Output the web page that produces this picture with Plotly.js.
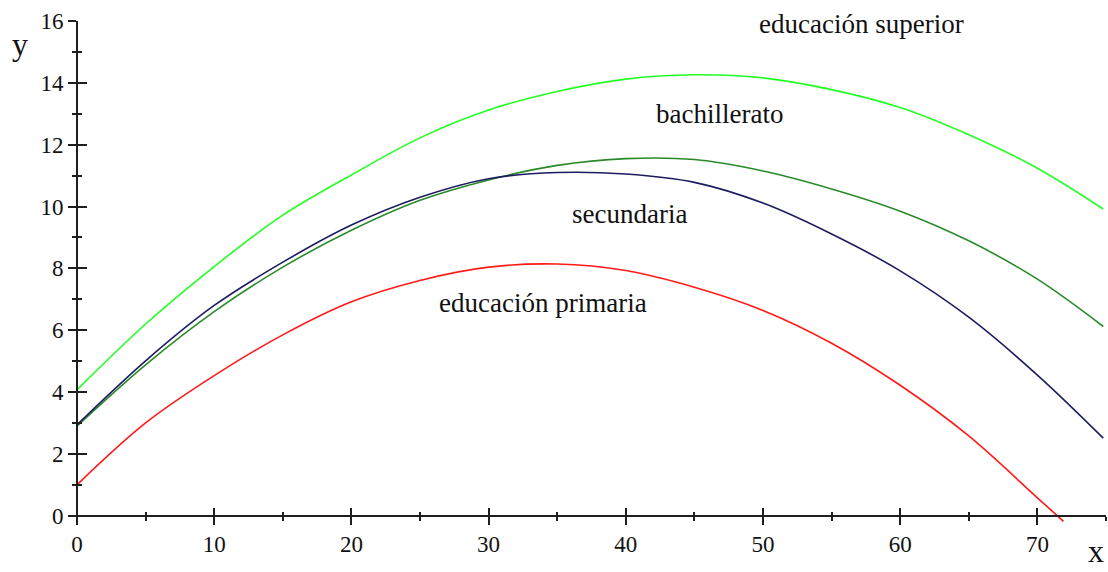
<!DOCTYPE html>
<html>
<head>
<meta charset="utf-8">
<script src="https://cdn.plot.ly/plotly-3.0.1.min.js"></script>
<style>
  html, body { margin: 0; padding: 0; background: #ffffff; }
  #plot { width: 1108px; height: 572px; }
</style>
</head>
<body>
<div id="plot"></div>
<script>
// Sampled values of each curve (x in years, y in thousands)
const xPrimaria = [0, 5, 10, 15, 20, 25, 30, 35, 40, 45, 50, 55, 60, 65, 70, 71.9];
const yPrimaria = [1.00, 3.00, 4.53, 5.85, 6.92, 7.61, 8.04, 8.14, 7.93, 7.39, 6.64, 5.58, 4.22, 2.58, 0.58, -0.18];

const xNiveles = [0, 5, 10, 15, 20, 25, 30, 35, 40, 45, 50, 55, 60, 65, 70, 74.8];
const ySecundaria = [2.94, 5.01, 6.80, 8.20, 9.40, 10.30, 10.90, 11.10, 11.05, 10.78, 10.11, 9.11, 7.92, 6.42, 4.55, 2.51];
const yBachillerato = [2.90, 4.88, 6.60, 8.04, 9.23, 10.20, 10.86, 11.33, 11.55, 11.52, 11.15, 10.57, 9.85, 8.89, 7.65, 6.12];
const ySuperior = [4.07, 6.20, 8.06, 9.72, 11.02, 12.22, 13.12, 13.72, 14.12, 14.26, 14.16, 13.78, 13.20, 12.32, 11.24, 9.92];

// Curve labels and where they sit in data space
const labelTexts = ['educación superior', 'bachillerato', 'secundaria', 'educación primaria'];
const labelX = [57.2, 46.8, 40.3, 34.0];
const labelY = [15.9, 13.0, 9.76, 6.89];

const xRange = [0, 75];
const yRange = [-0.3, 16];

const serif = '"Liberation Serif", "DejaVu Serif", serif';
const axisColor = '#1e1e1e';

function curve(x, y, color) {
  return {
    type: 'scatter', mode: 'lines', x: x, y: y,
    line: { color: color, width: 1.6, shape: 'spline', smoothing: 1 },
    hoverinfo: 'skip', showlegend: false
  };
}

const traces = [
  curve(xNiveles, ySuperior, '#22ff22'),
  curve(xNiveles, yBachillerato, '#2a8a2a'),
  curve(xNiveles, ySecundaria, '#1c1c60'),
  curve(xPrimaria, yPrimaria, '#ff1a1a'),
  // carrier for the inner half of the crossing tick marks
  { type: 'scatter', mode: 'none', x: [], y: [], xaxis: 'x2', yaxis: 'y2', hoverinfo: 'skip', showlegend: false }
];

const xAxisPos = (0 - yRange[0]) / (yRange[1] - yRange[0]);

const annotations = labelTexts.map((t, i) => ({
  text: t, x: labelX[i], y: labelY[i], xref: 'x', yref: 'y',
  showarrow: false, xanchor: 'center', yanchor: 'middle',
  font: { family: serif, size: 27, color: '#111111' }
}));
annotations.push({
  text: 'y', xref: 'paper', yref: 'paper', x: -0.0554, y: 0.955,
  showarrow: false, xanchor: 'center', yanchor: 'middle',
  font: { family: serif, size: 32, color: '#111111' }
});
annotations.push({
  text: 'x', xref: 'paper', yref: 'paper', x: 0.990, y: -0.052,
  showarrow: false, xanchor: 'center', yanchor: 'middle',
  font: { family: serif, size: 32, color: '#111111' }
});

const layout = {
  width: 1108, height: 572,
  margin: { l: 77, r: 2, t: 21, b: 47, pad: 0 },
  paper_bgcolor: '#ffffff', plot_bgcolor: '#ffffff',
  font: { family: serif, size: 23, color: '#111111' },
  xaxis: {
    range: xRange, anchor: 'free', position: xAxisPos,
    showgrid: false, zeroline: false,
    showline: true, linecolor: axisColor, linewidth: 2,
    tick0: 0, dtick: 10, ticks: 'outside', ticklen: 8, tickwidth: 2, tickcolor: axisColor,
    minor: { tick0: 0, dtick: 5, ticks: 'outside', ticklen: 4, tickwidth: 2, tickcolor: axisColor },
    tickfont: { family: serif, size: 23, color: '#111111' },
    fixedrange: true
  },
  yaxis: {
    range: yRange, anchor: 'free', position: 0,
    showgrid: false, zeroline: false,
    showline: true, linecolor: axisColor, linewidth: 2,
    tick0: 0, dtick: 2, ticks: 'outside', ticklen: 8, tickwidth: 2, tickcolor: axisColor,
    minor: { tick0: 0, dtick: 1, ticks: 'outside', ticklen: 4, tickwidth: 2, tickcolor: axisColor },
    tickfont: { family: serif, size: 23, color: '#111111' },
    fixedrange: true
  },
  xaxis2: {
    range: xRange, overlaying: 'x', anchor: 'free', position: xAxisPos,
    showgrid: false, zeroline: false, showline: false, showticklabels: false,
    tick0: 0, dtick: 10, ticks: 'inside', ticklen: 8, tickwidth: 2, tickcolor: axisColor,
    minor: { tick0: 0, dtick: 5, ticks: 'inside', ticklen: 4, tickwidth: 2, tickcolor: axisColor },
    fixedrange: true
  },
  yaxis2: {
    range: yRange, overlaying: 'y', anchor: 'free', position: 0, side: 'left',
    showgrid: false, zeroline: false, showline: false, showticklabels: false,
    tick0: 0, dtick: 2, ticks: 'inside', ticklen: 9, tickwidth: 2, tickcolor: axisColor,
    minor: { tick0: 0, dtick: 1, ticks: 'inside', ticklen: 4, tickwidth: 2, tickcolor: axisColor },
    fixedrange: true
  },
  annotations: annotations,
  showlegend: false
};

Plotly.newPlot('plot', traces, layout, { displayModeBar: false, staticPlot: true });
</script>
</body>
</html>
